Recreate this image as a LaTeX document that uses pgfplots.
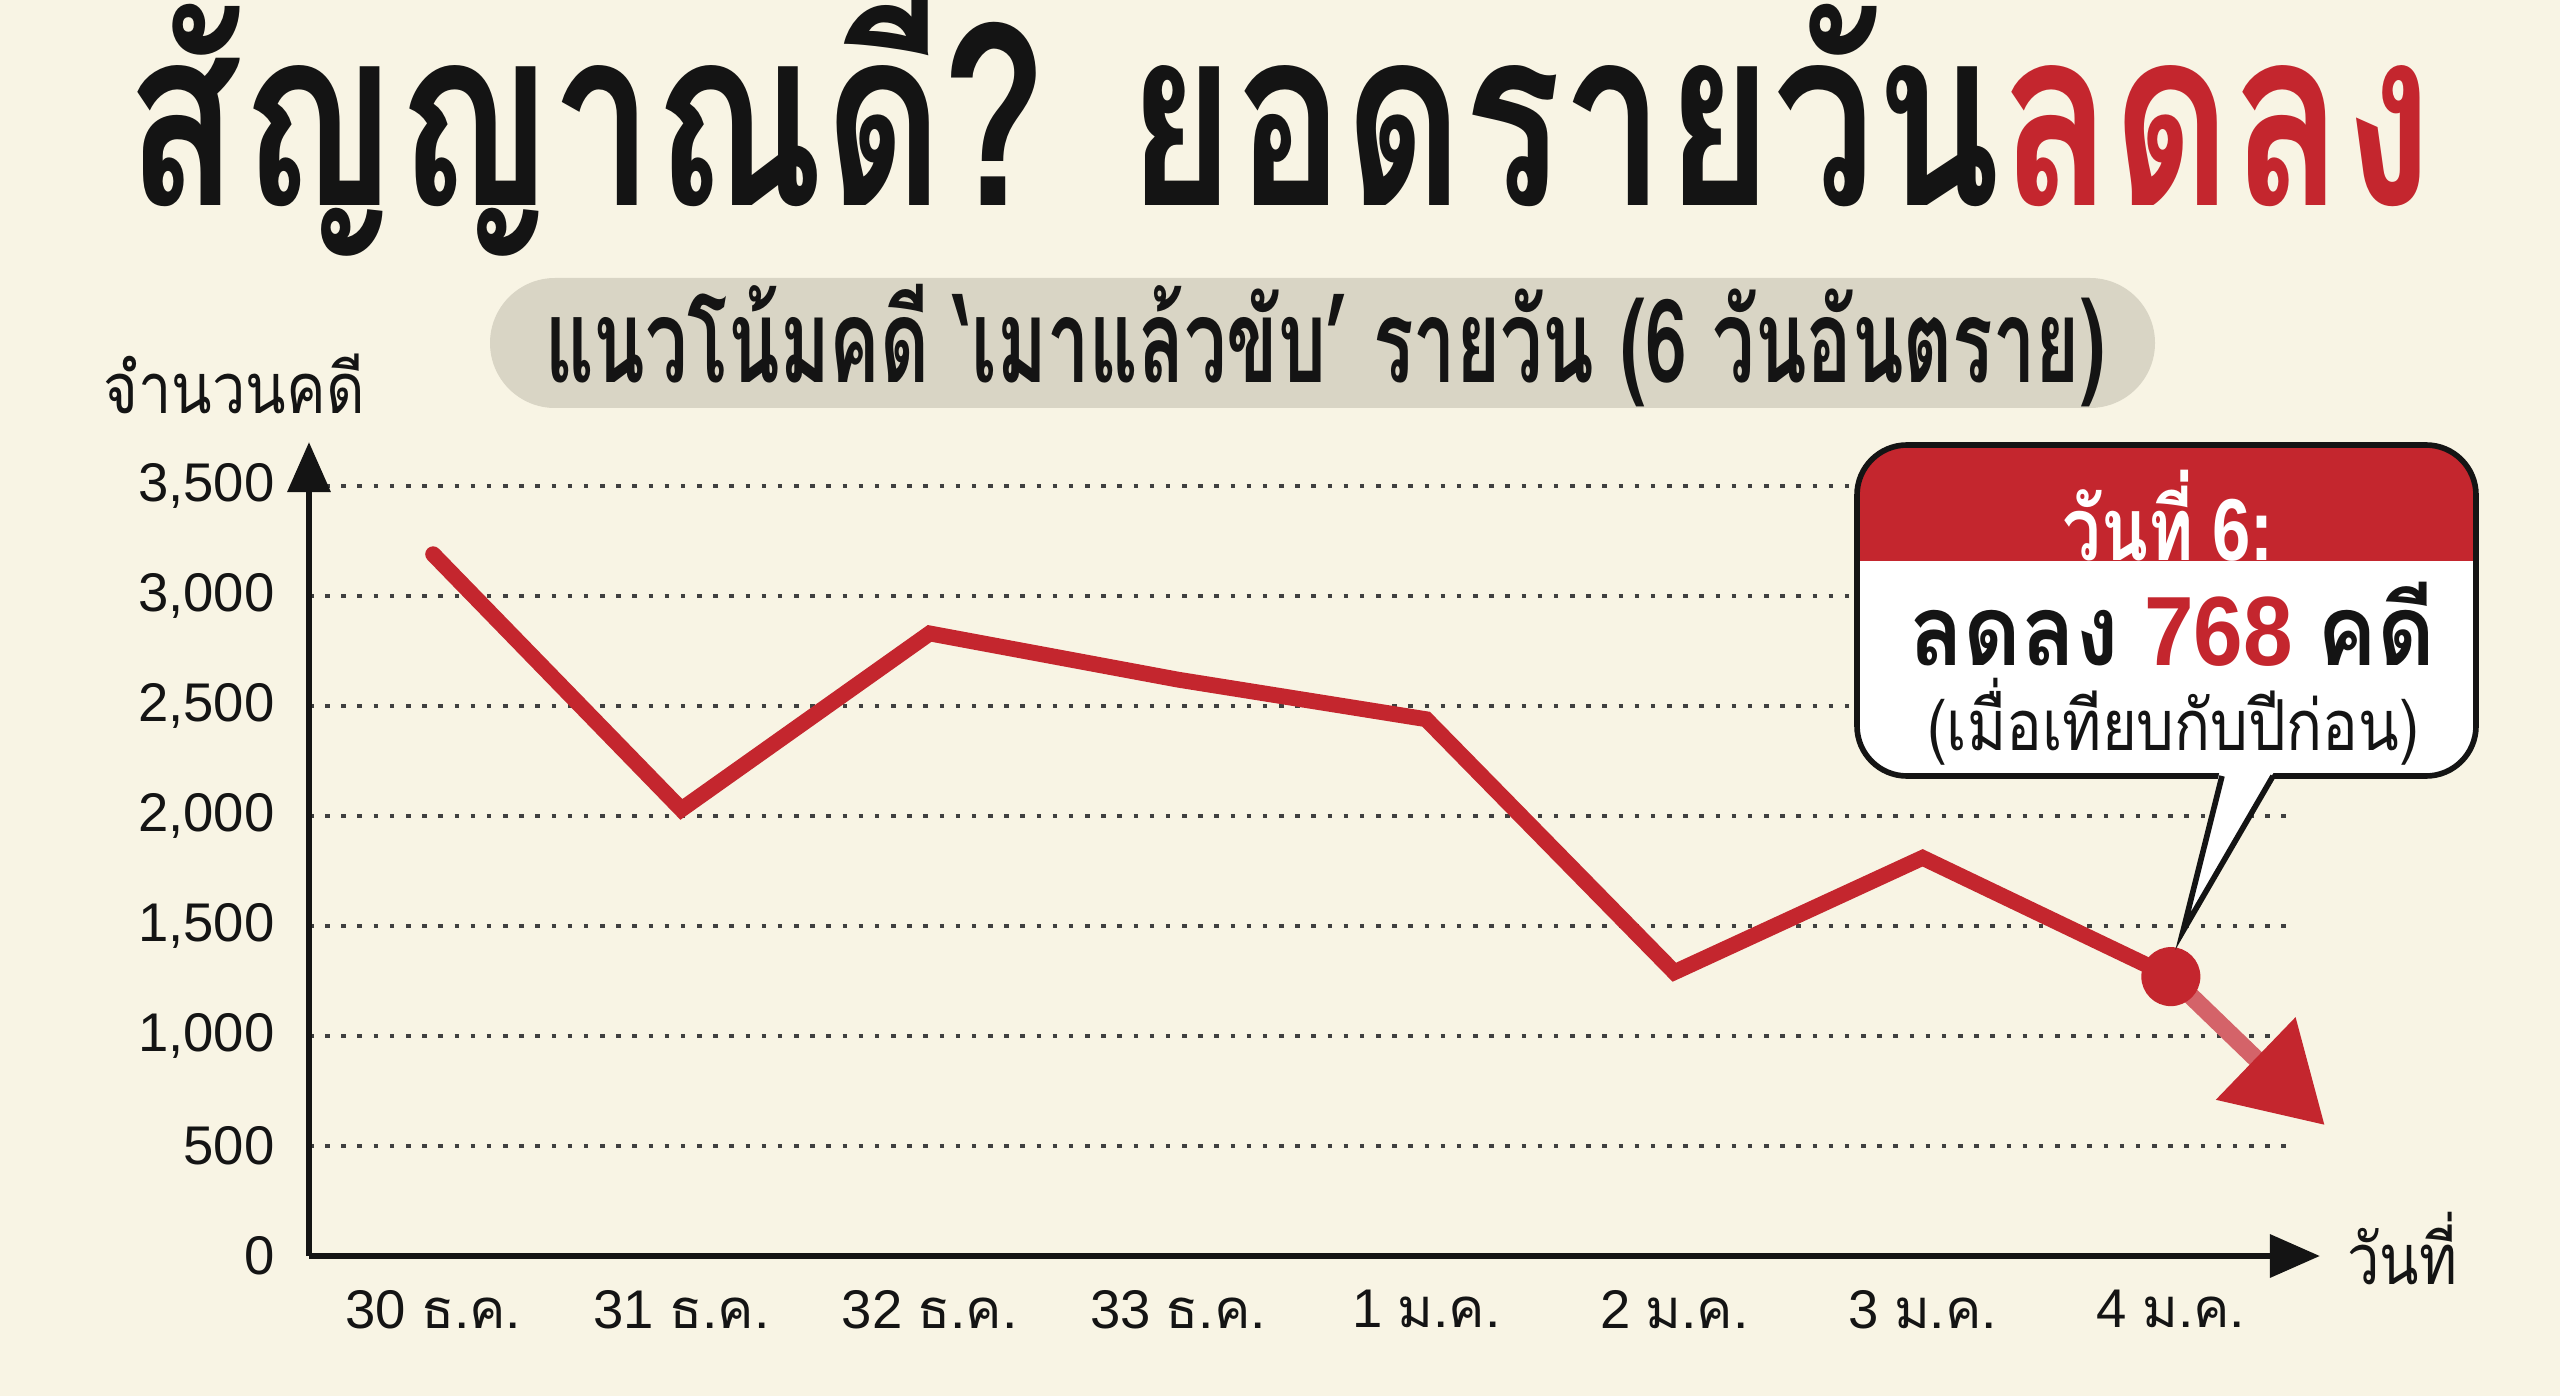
\documentclass[border=0pt]{standalone}
\usepackage{pgfplots}
\pgfplotsset{compat=1.18}
\usepackage{fontspec}
\setmainfont{Liberation Sans}
\newfontfamily\thai[Script=Thai]{Loma}
\usetikzlibrary{arrows.meta}
\definecolor{bg}{HTML}{F8F4E4}
\definecolor{ared}{HTML}{C4262E}
\definecolor{pill}{HTML}{D9D5C5}
\definecolor{ink}{HTML}{141414}

\begin{document}
\begin{tikzpicture}
\fill[bg] (0,0) rectangle (25.6,13.96);
\path[use as bounding box] (0,0) rectangle (25.6,13.96);

% title
\node[anchor=base, inner sep=0pt, text=ink] at (12.8,11.90)
  {\resizebox{23.06cm}{\height}{\fontsize{71}{76}\selectfont\thai\bfseries สัญญาณดี? ยอดรายวัน\textcolor{ared}{ลดลง}}};

% subtitle pill
\fill[pill, rounded corners=0.65cm] (4.90,9.88) rectangle (21.55,11.18);
\node[inner sep=0pt, text=ink] at (13.25,10.50)
  {\resizebox{15.6cm}{\height}{\fontsize{33}{36}\selectfont\thai\bfseries แนวโน้มคดี ‘เมาแล้วขับ’ รายวัน (6 วันอันตราย)}};

% axis titles
\node[inner sep=0pt, text=ink] at (2.34,10.12)
  {\resizebox{2.61cm}{\height}{\fontsize{20}{23}\selectfont\thai จำนวนคดี}};
\node[inner sep=0pt, text=ink] at (24.02,1.47)
  {\resizebox{1.10cm}{\height}{\fontsize{20}{23}\selectfont\thai วันที่}};

\begin{axis}[
    at={(3.09cm,1.40cm)}, anchor=south west,
    scale only axis, width=19.86cm, height=8.14cm,
    xmin=-0.5, xmax=7.5, ymin=0, ymax=3700,
    clip=false,
    axis lines*=left,
    axis line style={line width=1.9pt, ink},
    x axis line style={-{Triangle[length=5mm,width=4.2mm]}, shorten >=-0.25cm},
    y axis line style={-{Triangle[length=5mm,width=4.2mm]}},
    major tick length=0pt,
    xtick={0,...,7},
    xticklabels={{30 \thai ธ.ค.},{31 \thai ธ.ค.},{32 \thai ธ.ค.},{33 \thai ธ.ค.},
                 {1 \thai ม.ค.},{2 \thai ม.ค.},{3 \thai ม.ค.},{4 \thai ม.ค.}},
    ytick={0,500,...,3500},
    ymajorgrids,
    grid style={dash pattern=on 1.3pt off 3.3pt, line width=0.9pt, black!75},
    xticklabel style={font=\fontsize{15.5}{18}\selectfont, text=ink, yshift=-2.2mm},
    yticklabel style={font=\fontsize{15.5}{18}\selectfont, text=ink, xshift=-2.2mm},
    /pgf/number format/1000 sep={,},
    /pgf/number format/assume math mode=true,
  ]
  % daily cases
  \addplot[ared, line width=4.5pt, line cap=round, line join=miter, mark=none]
    coordinates {(0,3190) (1,2030) (2,2830) (3,2620) (4,2440) (5,1290) (6,1810) (7,1270)};
  % trend arrow
  \addplot[ared!72, line width=5pt, mark=none,
    -{Triangle[length=9.6mm,width=11mm,color=ared]}]
    coordinates {(7,1270) (7.62,595)};
  \addplot[only marks, mark=*, mark size=8.2pt, ared, mark options={fill=ared, draw=ared}]
    coordinates {(7,1270)};
\end{axis}

% callout
\fill[white, rounded corners=0.5cm] (18.57,6.20) rectangle (24.76,9.51);
\begin{scope}
  \clip[rounded corners=0.5cm] (18.57,6.20) rectangle (24.76,9.51);
  \fill[ared] (18.5,8.35) rectangle (24.9,9.6);
\end{scope}
\draw[ink, line width=1.6pt, rounded corners=0.5cm] (18.57,6.20) rectangle (24.76,9.51);
\fill[white] (22.20,6.26) -- (21.83,4.65) -- (22.75,6.26) -- cycle;
\draw[ink, line width=1.6pt, line join=miter] (22.22,6.20) -- (21.83,4.65) -- (22.73,6.20);

\node[inner sep=0pt, text=white] at (21.68,8.80)
  {\resizebox{2.11cm}{\height}{\fontsize{25}{28}\selectfont\bfseries{\thai วันที่} 6:}};
\node[inner sep=0pt, text=ink] at (21.72,7.72)
  {\resizebox{5.26cm}{\height}{\fontsize{28}{31}\selectfont\bfseries{\thai ลดลง} \textcolor{ared}{768} {\thai คดี}}};
\node[inner sep=0pt, text=ink] at (21.73,6.74)
  {\resizebox{4.92cm}{\height}{\fontsize{20}{23}\selectfont\thai (เมื่อเทียบกับปีก่อน)}};
\end{tikzpicture}
\end{document}
